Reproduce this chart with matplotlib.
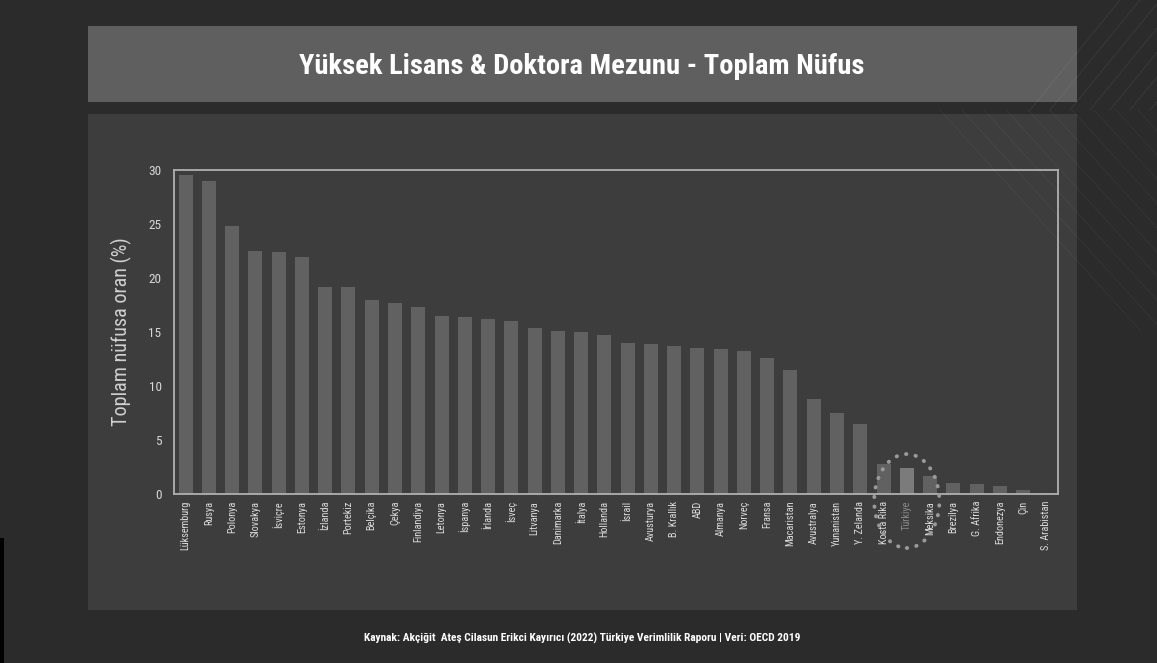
import numpy as np
import matplotlib
matplotlib.use("Agg")
import matplotlib.pyplot as plt
from matplotlib.patches import Rectangle, Ellipse
from matplotlib.lines import Line2D

countries = ["Lüksemburg", "Rusya", "Polonya", "Slovakya", "İsviçre", "Estonya",
             "İzlanda", "Portekiz", "Belçika", "Çekya", "Finlandiya", "Letonya",
             "İspanya", "İrlanda", "İsveç", "Litvanya", "Danimarka", "İtalya",
             "Hollanda", "İsrail", "Avusturya", "B. Krallık", "ABD", "Almanya",
             "Norveç", "Fransa", "Macaristan", "Avustralya", "Yunanistan",
             "Y. Zelanda", "Kosta Rika", "Türkiye", "Meksika", "Brezilya",
             "G. Afrika", "Endonezya", "Çin", "S. Arabistan"]
values = [29.5, 29.0, 24.8, 22.5, 22.4, 21.9,
          19.2, 19.2, 18.0, 17.7, 17.3, 16.5,
          16.4, 16.2, 16.0, 15.4, 15.1, 15.0,
          14.7, 14.0, 13.9, 13.7, 13.5, 13.4,
          13.2, 12.6, 11.5, 8.8, 7.5,
          6.45, 2.8, 2.4, 1.7, 1.05,
          0.93, 0.77, 0.37, 0.05]
highlight = "Türkiye"

title = "Yüksek Lisans & Doktora Mezunu - Toplam Nüfus"
ylabel = "Toplam nüfusa oran (%)"
source = "Kaynak: Akçiğit  Ateş Cilasun Erikci Kayırıcı (2022) Türkiye Verimlilik Raporu | Veri: OECD 2019"

plt.rcParams['font.family'] = ['Roboto Condensed', 'Lato', 'DejaVu Sans']

W, H = 1157, 663
fig = plt.figure(figsize=(W / 100, H / 100), dpi=100)
fig.patch.set_facecolor('#2b2b2b')

def box(x0, y0, x1, y1):
    # pixel box (top-left origin) -> figure fraction rect
    return [x0 / W, 1 - y1 / H, (x1 - x0) / W, (y1 - y0) / H]

# faint decorative diagonal lines
for k in range(12):
    x0 = 940 + k * 22
    fig.add_artist(Line2D([x0 / W, (x0 + 200) / W], [1 - 110 / H, 1 - 330 / H],
                          transform=fig.transFigure, color='white', alpha=0.04, lw=0.8))
for k in range(8):
    x0 = 1120 + k * 20
    fig.add_artist(Line2D([x0 / W, (x0 - 90) / W], [1.0, 1 - 110 / H],
                          transform=fig.transFigure, color='white', alpha=0.06, lw=0.8))

# title band and chart panel
tb = box(88, 26, 1077, 102)
fig.add_artist(Rectangle(tb[:2], tb[2], tb[3], transform=fig.transFigure,
                         facecolor='#5f5f5f', edgecolor='none', zorder=0))
pb = box(88, 114, 1077, 610)
fig.add_artist(Rectangle(pb[:2], pb[2], pb[3], transform=fig.transFigure,
                         facecolor='#3d3d3d', edgecolor='none', zorder=0))
bl = box(0, 538, 4, 663)
fig.add_artist(Rectangle(bl[:2], bl[2], bl[3], transform=fig.transFigure,
                         facecolor='black', edgecolor='none', zorder=0))

fig.text(582 / W, 1 - 67 / H, title, ha='center', va='center', color='white',
         fontsize=20.5, fontweight='bold')
fig.text(582 / W, 1 - 638 / H, source, ha='center', va='center', color='white',
         fontsize=8.2, fontweight='bold')

ax = fig.add_axes(box(174, 170, 1058, 494))
ax.set_facecolor('none')
x = np.arange(len(countries))
colors = ['#7b7b7b' if c == highlight else '#616161' for c in countries]
ax.bar(x, values, width=0.6, color=colors, zorder=2)

ax.set_xlim(-0.5, len(countries) - 0.5)
ax.set_ylim(0, 30)
ax.set_yticks([0, 5, 10, 15, 20, 25, 30])
ax.set_xticks(x)
ax.set_xticklabels(countries, rotation=90, fontsize=7.4)
for lab in ax.get_xticklabels():
    lab.set_color('#8a8a8a' if lab.get_text() == highlight else '#dcdcdc')
ax.tick_params(axis='y', colors='#d8d8d8', labelsize=9.5, length=0, pad=9)
ax.tick_params(axis='x', length=0, pad=5)
for s in ax.spines.values():
    s.set_color('#b0b0b0')
    s.set_linewidth(1.3)
ax.set_ylabel(ylabel, color='#d0d0d0', fontsize=14.5, labelpad=12)

# dotted circle around Türkiye
ti = countries.index(highlight)
ell = Ellipse((ti, -0.65), width=2.8, height=8.7, transform=ax.transData,
              fill=False, edgecolor='#9a9a9a', linestyle=(0, (0.1, 2.4)),
              linewidth=2.8, capstyle='round', clip_on=False, zorder=3)
ax.add_patch(ell)

fig.savefig('out.png', dpi=100, facecolor=fig.get_facecolor())
